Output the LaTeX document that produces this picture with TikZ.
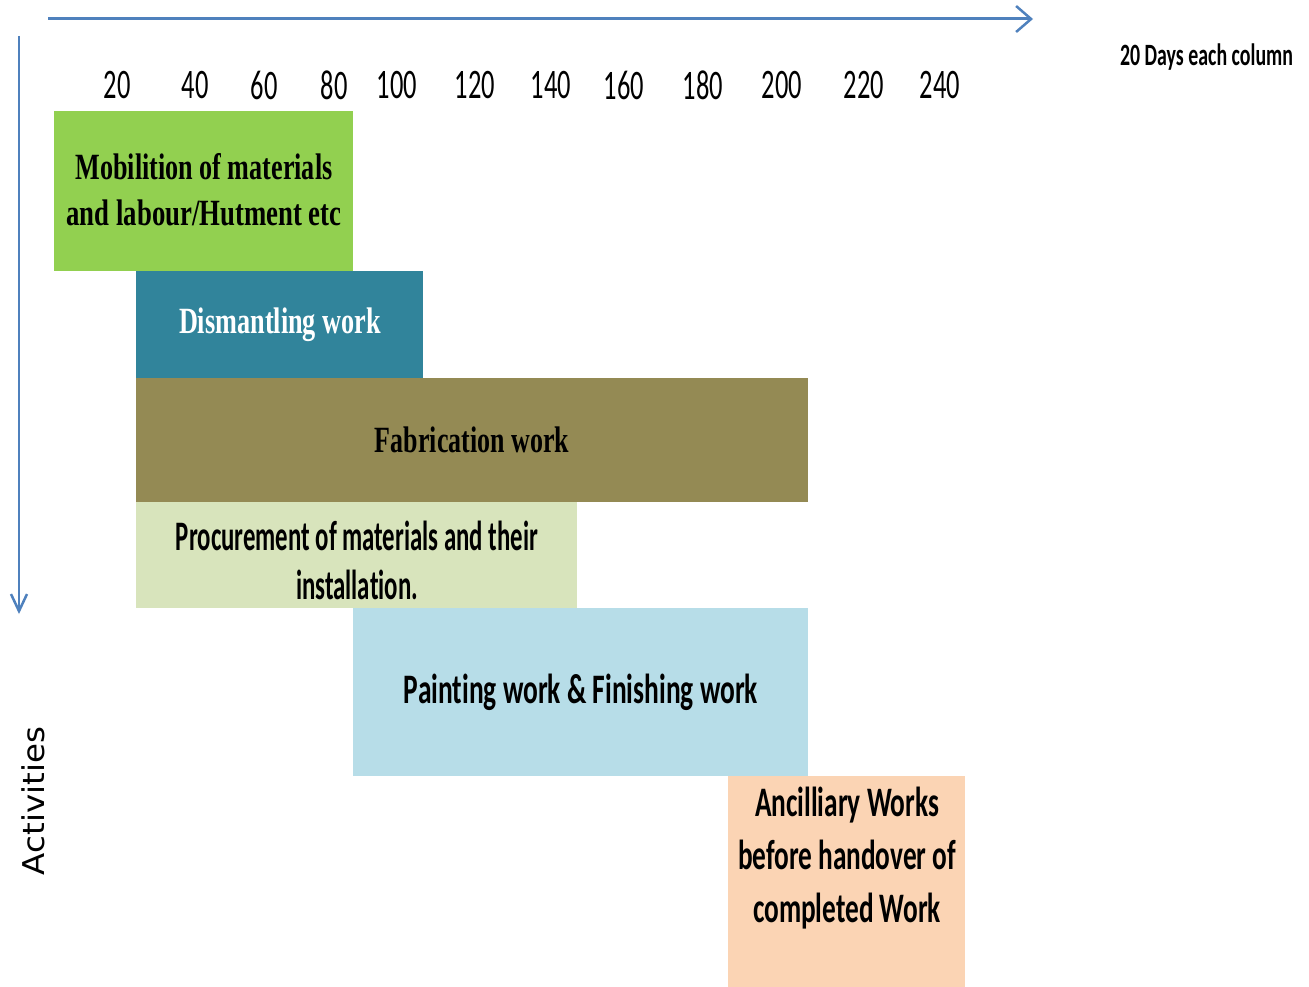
\documentclass[tikz,border=0pt]{standalone}
\usepackage{fontspec}
\usepackage{graphicx}
\usetikzlibrary{arrows.meta}
\newfontfamily\calfont{Carlito}[FakeStretch=0.63, RawFeature={-liga;-clig;-calt;-dlig}]
\newfontfamily\serfont{Liberation Serif}
\newfontfamily\dvfont{DejaVu Sans}
\newcommand{\fw}[2]{\resizebox{#1pt}{\height}{#2}}
\definecolor{axisblue}{HTML}{4F81BD}
\definecolor{cgreen}{HTML}{92D050}
\definecolor{cteal}{HTML}{31849B}
\definecolor{colive}{HTML}{948A54}
\definecolor{clgreen}{HTML}{D8E4BC}
\definecolor{clblue}{HTML}{B7DDE8}
\definecolor{cpeach}{HTML}{FBD4B4}
\tikzset{
  bar/.style={draw=none, inner sep=0pt, outer sep=0pt, anchor=north west},
  numlab/.style={font=\calfont\fontsize{42}{50}\selectfont, inner sep=0pt},
  serlab/.style={font=\serfont\bfseries\fontsize{37}{46}\selectfont, align=center, inner sep=0pt},
  callab/.style={font=\calfont\bfseries\fontsize{42}{49}\selectfont, align=center, inner sep=0pt},
  axis/.style={draw=axisblue, -{Straight Barb[length=15pt,width=26pt,line width=2.5pt]}}
}
\begin{document}
\begin{tikzpicture}[x=1pt, y=-1pt]
\useasboundingbox[fill=white] (0,0) rectangle (1309,987);
% axes
\coordinate (xs) at (48,19);
\coordinate (xe) at (1033,19);
\coordinate (ys) at (19,36);
\coordinate (ye) at (19,614);
\draw[axis, line width=3pt] (xs) -- (xe);
\draw[axis, line width=2.5pt, -{Straight Barb[length=17pt,width=16pt,line width=2.5pt]}] (ys) -- (ye);
% scale numbers
\foreach \v/\x in {20/117, 40/195, 60/264, 80/334, 100/397, 120/475, 140/551, 160/624, 180/703, 200/782, 220/864, 240/940}
  \node[numlab] (n\v) at (\x,85) {\v};
\node[font=\calfont\bfseries\fontsize{31}{36}\selectfont, inner sep=0pt] (unit) at (1206.5,57) {\fw{173}{20 Days each column}};
\node[font=\dvfont\fontsize{30}{36}\selectfont, rotate=90, inner sep=0pt] (act) at (33,801) {\fw{148}{Activities}};
% bars
\node[bar, fill=cgreen, minimum width=299pt, minimum height=160pt] (b1) at (54,111) {};
\node[bar, fill=cteal, minimum width=287pt, minimum height=107pt] (b2) at (136,271) {};
\node[bar, fill=colive, minimum width=672pt, minimum height=124pt] (b3) at (136,378) {};
\node[bar, fill=clgreen, minimum width=441pt, minimum height=106pt] (b4) at (136,502) {};
\node[bar, fill=clblue, minimum width=455pt, minimum height=168pt] (b5) at (353,608) {};
\node[bar, fill=cpeach, minimum width=237pt, minimum height=211pt] (b6) at (728,776) {};
% labels
\node[serlab] (t1) at (204,190) {\fw{257}{Mobilition of materials}\\\fw{275}{and labour/Hutment etc}};
\node[serlab, text=white] (t2) at (280,325) {\fw{202}{Dismantling work}};
\node[serlab] (t3) at (472,440) {\fw{194}{Fabrication work}};
\node[callab] (t4) at (357,560) {\fw{362}{Procurement of materials and their}\\\fw{122}{installation.}};
\node[callab] (t5) at (581,692) {\fw{354}{Painting work \& Finishing work}};
\node[callab, font=\calfont\bfseries\fontsize{42}{53}\selectfont] (t6) at (847,858) {\fw{184}{Ancilliary Works}\\\fw{218}{before handover of}\\\fw{188}{completed Work}};
\end{tikzpicture}
\end{document}
